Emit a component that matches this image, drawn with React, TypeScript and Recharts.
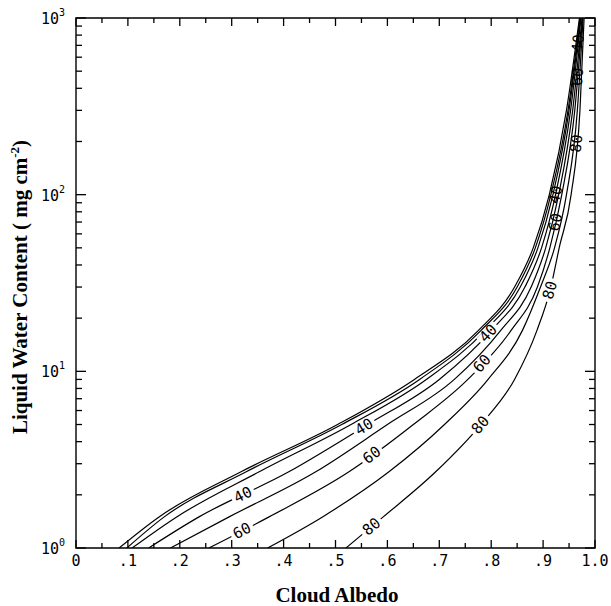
import React from 'react'
import { LineChart, Line, XAxis, YAxis, ReferenceArea, ReferenceDot } from 'recharts'

// plot frame in page pixels (chart sits at the top-left corner of the page)
const W = 611
const H = 606
const PLOT = { left: 76, right: 595, top: 18, bottom: 548 }
const PW = PLOT.right - PLOT.left
const PH = PLOT.bottom - PLOT.top

const MONO = '"DejaVu Sans Mono", monospace'
const SERIF = '"Liberation Serif", "Times New Roman", serif'

// liquid water content (mg cm^-2) levels where the contours were read
const lwcLevels = [1, 1.5, 2.7, 5, 9, 17, 30, 50, 100, 300, 1000]

// cloud albedo of each contour at those levels
const albedo10 = [0.083, 0.16, 0.318, 0.504, 0.652, 0.775, 0.845, 0.881, 0.912, 0.945, 0.97]
const albedo20 = [0.098, 0.17, 0.328, 0.512, 0.662, 0.78, 0.85, 0.885, 0.915, 0.948, 0.971]
const albedo30 = [0.108, 0.194, 0.353, 0.53, 0.675, 0.788, 0.856, 0.89, 0.919, 0.95, 0.972]
const albedo40 = [0.14, 0.237, 0.41, 0.562, 0.7, 0.8, 0.865, 0.897, 0.924, 0.953, 0.973]
const albedo50 = [0.182, 0.295, 0.462, 0.6, 0.729, 0.818, 0.877, 0.905, 0.93, 0.957, 0.975]
const albedo60 = [0.256, 0.372, 0.526, 0.65, 0.755, 0.838, 0.889, 0.913, 0.936, 0.961, 0.976]
const albedo70 = [0.369, 0.475, 0.603, 0.71, 0.794, 0.86, 0.895, 0.922, 0.945, 0.966, 0.977]
const albedo80 = [0.52, 0.592, 0.693, 0.78, 0.845, 0.888, 0.915, 0.931, 0.954, 0.971, 0.979]

const contourLevels = [10, 20, 30, 40, 50, 60, 70, 80]
const contourAlbedo = [albedo10, albedo20, albedo30, albedo40, albedo50, albedo60, albedo70, albedo80]

// inline contour labels: which contour, and at what LWC
const labelContour = [40, 40, 40, 40, 40, 60, 60, 60, 60, 60, 80, 80, 80, 80]
const labelLwc = [2.0, 4.86, 16.4, 100, 718, 1.25, 3.36, 11.1, 70, 465, 1.32, 4.97, 28.8, 195]

const albedoTicks = [0, 0.05, 0.1, 0.15, 0.2, 0.25, 0.3, 0.35, 0.4, 0.45, 0.5, 0.55, 0.6, 0.65, 0.7, 0.75, 0.8, 0.85, 0.9, 0.95, 1]
const lwcTicks = [
  1, 2, 3, 4, 5, 6, 7, 8, 9,
  10, 20, 30, 40, 50, 60, 70, 80, 90,
  100, 200, 300, 400, 500, 600, 700, 800, 900,
  1000,
]

function albedoAt(xs: number[], lwc: number) {
  const ly = Math.log10(lwc)
  for (let i = 0; i < lwcLevels.length - 1; i++) {
    const a = Math.log10(lwcLevels[i])
    const b = Math.log10(lwcLevels[i + 1])
    if (ly >= a && ly <= b) {
      const t = (ly - a) / (b - a)
      return xs[i] + t * (xs[i + 1] - xs[i])
    }
  }
  return ly < 0 ? xs[0] : xs[xs.length - 1]
}

function slopeAngle(xs: number[], lwc: number) {
  const d = 0.05
  const x1 = albedoAt(xs, lwc * Math.pow(10, -d))
  const x2 = albedoAt(xs, lwc * Math.pow(10, d))
  const dx = (x2 - x1) * PW
  const dy = ((2 * d) * PH) / 3
  return (-Math.atan2(dy, dx) * 180) / Math.PI
}

function AlbedoTick(props: any) {
  const { x, payload } = props
  const v = payload.value as number
  const major = Math.abs(v * 10 - Math.round(v * 10)) < 1e-6
  const len = major ? 8 : 5
  const label = v === 0 ? '0' : v === 1 ? '1.0' : '.' + Math.round(v * 10)
  return (
    <g>
      <line x1={x} x2={x} y1={PLOT.bottom} y2={PLOT.bottom - len} stroke="#000" strokeWidth={1.3} />
      <line x1={x} x2={x} y1={PLOT.top} y2={PLOT.top + len} stroke="#000" strokeWidth={1.3} />
      {major && (
        <text x={x} y={566} textAnchor="middle" fontFamily={MONO} fontSize={15} fill="#000">
          {label}
        </text>
      )}
    </g>
  )
}

function LwcTick(props: any) {
  const { y, payload } = props
  const v = payload.value as number
  const exp = Math.round(Math.log10(v))
  const major = Math.abs(Math.log10(v) - exp) < 1e-6
  const len = major ? 10 : 6
  return (
    <g>
      <line x1={PLOT.left} x2={PLOT.left + len} y1={y} y2={y} stroke="#000" strokeWidth={1.3} />
      <line x1={PLOT.right} x2={PLOT.right - len} y1={y} y2={y} stroke="#000" strokeWidth={1.3} />
      {major && (
        <text x={65} y={y + 6} textAnchor="end" fontFamily={MONO} fontSize={15} fill="#000">
          10
          <tspan dy={-8} fontSize={10}>{exp}</tspan>
        </text>
      )}
    </g>
  )
}

function ContourTag({ cx, cy, text, angle, bg }: any) {
  return (
    <g transform={`translate(${cx},${cy}) rotate(${angle})`}>
      {bg && <rect x={-12} y={-5} width={24} height={10} fill="#fff" />}
      <text x={0} y={5} textAnchor="middle" fontFamily={MONO} fontSize={15} fill="#000">
        {text}
      </text>
    </g>
  )
}

export default function App() {
  const series = contourLevels.map((lvl, k) => ({
    lvl,
    points: lwcLevels.map((lwc, i) => ({ albedo: contourAlbedo[k][i], lwc })),
  }))

  const tags = labelContour.map((lvl, i) => {
    const xs = contourAlbedo[contourLevels.indexOf(lvl)]
    const lwc = labelLwc[i]
    return { lvl, lwc, albedo: albedoAt(xs, lwc), angle: slopeAngle(xs, lwc), bg: lwc < 50 }
  })

  return (
    <div style={{ position: 'absolute', left: 0, top: 0, width: W, height: H, background: '#fff' }}>
      <LineChart width={W} height={H} margin={{ top: PLOT.top, right: W - PLOT.right, bottom: 0, left: 0 }}>
        <XAxis
          dataKey="albedo"
          type="number"
          domain={[0, 1]}
          ticks={albedoTicks}
          interval={0}
          height={H - PLOT.bottom}
          axisLine={false}
          tickLine={false}
          tick={AlbedoTick}
          allowDataOverflow
        />
        <YAxis
          dataKey="lwc"
          type="number"
          scale="log"
          domain={[1, 1000]}
          ticks={lwcTicks}
          interval={0}
          width={PLOT.left}
          axisLine={false}
          tickLine={false}
          tick={LwcTick}
          allowDataOverflow
        />
        <ReferenceArea x1={0} x2={1} y1={1} y2={1000} fill="none" stroke="#000" strokeWidth={1.4} ifOverflow="visible" />
        {series.map((s) => (
          <Line
            key={s.lvl}
            data={s.points}
            dataKey="lwc"
            type="monotone"
            stroke="#000"
            strokeWidth={1.2}
            dot={false}
            activeDot={false}
            isAnimationActive={false}
          />
        ))}
        {tags.map((t, i) => (
          <ReferenceDot
            key={i}
            x={t.albedo}
            y={t.lwc}
            r={1}
            ifOverflow="visible"
            shape={(p: any) => <ContourTag cx={p.cx} cy={p.cy} text={String(t.lvl)} angle={t.angle} bg={t.bg} />}
          />
        ))}
      </LineChart>
      <svg width={W} height={H} style={{ position: 'absolute', left: 0, top: 0, pointerEvents: 'none' }}>
        <text
          transform={`translate(27, ${(PLOT.top + PLOT.bottom) / 2 + 4}) rotate(-90)`}
          textAnchor="middle"
          fontFamily={SERIF}
          fontWeight="bold"
          fontSize={21}
          fill="#000"
        >
          Liquid Water Content ( mg cm
          <tspan dy={-8} fontSize={13}>-2</tspan>
          <tspan dy={8}>)</tspan>
        </text>
        <text x={337} y={602} textAnchor="middle" fontFamily={SERIF} fontWeight="bold" fontSize={21} fill="#000">
          Cloud Albedo
        </text>
      </svg>
    </div>
  )
}
